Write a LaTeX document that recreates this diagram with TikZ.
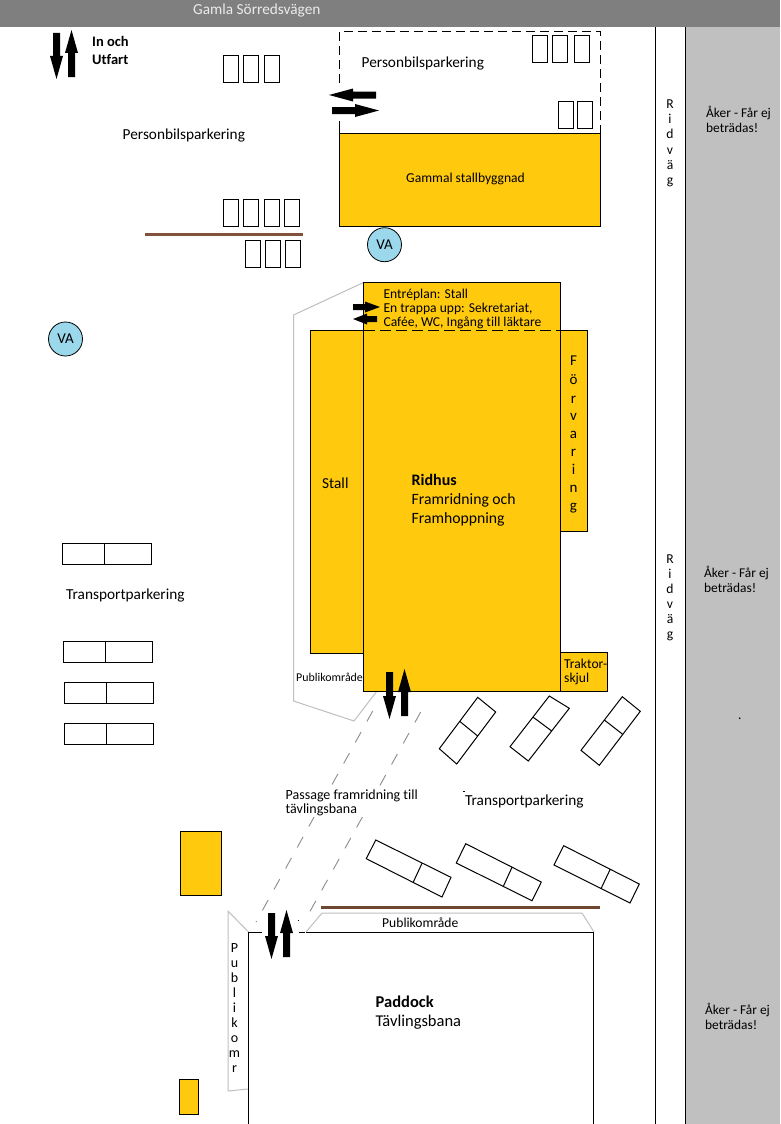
\documentclass[tikz,border=0pt]{standalone}
\usepackage{fontspec}
\setmainfont[Ligatures=CommonOff]{Carlito}
\definecolor{bldg}{HTML}{FFC90E}
\definecolor{road}{HTML}{7F7F7F}
\definecolor{field}{HTML}{C0C0C0}
\definecolor{brownA}{HTML}{82533A}
\definecolor{brownB}{HTML}{6E4731}
\definecolor{vablue}{HTML}{9BD8EC}
\definecolor{pub}{HTML}{BFBFBF}
\newcommand{\blockarrow}[7]{% x y rot length headlen shafthalf headhalf
  \fill[black,shift={(#1,#2)},rotate=#3] (0,-#6) -- (#4-#5,-#6) -- (#4-#5,-#7) -- (#4,0) -- (#4-#5,#7) -- (#4-#5,#6) -- (0,#6) -- cycle;}
\tikzset{
  line/.style={draw=black,line width=1pt},
  bldgbox/.style={line,fill=bldg},
  cell/.style={draw=black,line width=1pt},
  pubarea/.style={draw=pub,line width=1pt},
  passage/.style={draw=black!45,line width=.9pt,dash pattern=on 12pt off 12pt},
  lbl/.style={inner sep=0pt,anchor=base west,font=\fontsize{15.3}{17}\selectfont},
  lblsm/.style={lbl,font=\fontsize{13.6}{14}\selectfont},
  lblxs/.style={lbl,font=\fontsize{11.9}{14}\selectfont},
  lblak/.style={lbl,font=\fontsize{13.4}{14}\selectfont},
  lblbig/.style={lbl,font=\fontsize{15.7}{19}\selectfont},
  lblpad/.style={lbl,font=\fontsize{16.5}{19}\selectfont},
  lblc/.style={inner sep=0pt,anchor=base,font=\fontsize{13.6}{14}\selectfont},
  vastyle/.style={circle,draw=black,line width=.8pt,fill=vablue,minimum size=34pt,inner sep=0pt,font=\fontsize{15}{17}\selectfont},
}
\begin{document}
\begin{tikzpicture}[x=1pt,y=-1pt]
\useasboundingbox (0,0) rectangle (780,1124);
\fill[white] (0,0) rectangle (780,1124);
% road and field
\fill[field] (686,27) rectangle (780,1124);
\fill[road] (0,0) rectangle (780,27);
\draw[line] (655.5,27) -- (655.5,1124);
\draw[line] (685.5,27) -- (685.5,1124);
\node[lbl,text=white!92!black] (road) at (193,15) {Gamla Sörredsvägen};
% parking top left
\foreach \x in {223,243,264} \draw[cell] (\x,55.5) rectangle ++(15,27);
\foreach \x in {223,243,264,284} \draw[cell] (\x,199.5) rectangle ++(15,27);
\foreach \x in {245,265,285} \draw[cell] (\x,240.5) rectangle ++(15,27);
\draw[brownA,line width=3pt] (145,234.5) -- (303,234.5);
% dashed parking area
\draw[line,dash pattern=on 9pt off 5pt] (339.5,83) -- (339.5,31.5) -- (600.5,31.5) -- (600.5,133);
\draw[line] (339.5,121) -- (339.5,133);
\foreach \x in {532,552,574} \draw[cell] (\x,35.5) rectangle ++(15,27);
\foreach \x in {558,577} \draw[cell] (\x,101.5) rectangle ++(15,27);
\draw[bldgbox] (339.5,133.5) rectangle (600.5,226);
% Public areas behind buildings
\draw[pubarea] (363.5,282.5) -- (293.5,315) -- (293.5,701) -- (354,721) -- (377,691);
% Ridhus complex
\draw[bldgbox] (310.5,330.5) rectangle (363.5,653.5);
\draw[bldgbox] (560.5,330.5) rectangle (587.5,531);
\draw[bldgbox] (560.5,652.5) rectangle (607.5,691);
\draw[bldgbox] (363.5,282.5) rectangle (560.5,691);
\draw[line,dash pattern=on 11pt off 5pt] (363.5,330.5) -- (560.5,330.5);
% passage
\draw[passage] (372.7,711) -- (256,922);
\draw[passage] (420.7,712) -- (308,915);
\node[inner sep=0pt,fill=white,anchor=north west,minimum width=134pt,minimum height=30pt] (passbg) at (285,787) {};
% Small yellow buildings
\draw[bldgbox] (180.5,831.5) rectangle (221.5,895.5);
\draw[bldgbox] (179.5,1079.5) rectangle (198.5,1114.5);
% VA
\node[vastyle] (va1) at (384.5,244.7) {VA};
\node[vastyle] (va2) at (65.5,339) {VA};
% transport parking left
\foreach \x/\y/\d in {62.5/543.5/104.5,63.5/641.5/105.5,64.5/682.5/106.5,64.5/723.5/106.5} {
  \draw[cell] (\x,\y) rectangle ++(89,21);
  \draw[cell] (\d,\y) -- ++(0,21);
}
% tilted parking
\draw[cell] (477.7,697.3) -- (495.7,712) -- (456.7,764) -- (439.3,748.7) -- cycle (459.3,721) -- (477.3,735.7);
\draw[cell] (549.3,696) -- (569.3,708.3) -- (528.3,761) -- (510,746.7) -- cycle (533.3,717.3) -- (551.7,731);
\draw[cell] (622.3,696.7) -- (640.3,711.3) -- (599.3,765.3) -- (581,750.3) -- cycle (604.3,720) -- (622.7,734.3);
\draw[cell] (375.7,840) -- (451,877.3) -- (442,897) -- (366.3,858.7) -- cycle (422,863.3) -- (413,882.7);
\draw[cell] (465.7,843.7) -- (541.3,882) -- (532,900.7) -- (456.3,863) -- cycle (512,867.3) -- (503,887);
\draw[cell] (563.7,845.7) -- (639.3,884) -- (630,903) -- (554,865) -- cycle (610,869.7) -- (601,888.7);
% paddock
\draw[brownB,line width=3pt] (321,907.5) -- (600,907.5);
\draw[pubarea] (306,932) -- (322,913) -- (582,913) -- (594,932);
\draw[pubarea] (248.5,932) -- (228,911) -- (228,1091) -- (248,1089);
\draw[line] (261.5,932.5) -- (248.5,932.5) -- (248.5,1124);
\draw[line] (299,932.5) -- (305,932.5);
\draw[line] (306,932.5) -- (593.5,932.5) -- (593.5,1124);
% block arrows
\blockarrow{56.5}{33}{-90}{46}{23}{3.5}{6.5}
\blockarrow{71.5}{77}{90}{47}{23}{3.5}{6.5}
\blockarrow{376}{95}{180}{47}{24}{3.5}{6.5}
\blockarrow{332}{110.5}{0}{47}{24}{3.5}{6.5}
\blockarrow{353}{307}{0}{27}{15}{3}{5.5}
\blockarrow{377}{319}{180}{24}{14}{3}{5.5}
\blockarrow{389.5}{672}{-90}{47}{23}{3.5}{6.5}
\blockarrow{404.5}{716}{90}{47}{23}{3.5}{6.5}
\blockarrow{271.5}{913}{-90}{46}{23}{3.5}{6.5}
\blockarrow{286.5}{957}{90}{47}{23}{3.5}{6.5}
% labels
\node[lbl,font=\fontsize{14.5}{17}\selectfont\bfseries] (inoch) at (92,47) {In och};
\node[lbl,font=\fontsize{14.5}{17}\selectfont\bfseries] (utfart) at (92,65) {Utfart};
\node[lbl] (pb1) at (122.5,139.3) {Personbilsparkering};
\node[lbl] (pb2) at (361.5,67) {Personbilsparkering};
\node[lblsm] (gammal) at (406,182) {Gammal stallbyggnad};
\node[lblsm] (entre) at (383.3,298) {Entréplan: Stall};
\node[lblsm] (trappa) at (383.3,312) {En trappa upp: Sekretariat,};
\node[lblsm] (cafe) at (383.3,326) {Cafée, WC, Ingång till läktare};
\node[lbl] (stall) at (322,488) {Stall};
\node[lblbig,font=\fontsize{16}{19}\selectfont\bfseries] (ridhus) at (411.5,485) {Ridhus};
\node[lblbig] (fram1) at (411.5,504) {Framridning och};
\node[lblbig] (fram2) at (411.5,523) {Framhoppning};
\node[lbl,font=\fontsize{13.6}{17}\selectfont] (trak1) at (564,668) {Traktor-};
\node[lbl,font=\fontsize{13.6}{17}\selectfont] (trak2) at (564,682) {skjul};
\node[lblxs] (pubL) at (296,681) {Publikområde};
\node[lblsm] (pubB) at (382,927) {Publikområde};
\node[lbl,font=\fontsize{14}{14}\selectfont] (pass1) at (285.5,799) {Passage framridning till};
\node[lbl,font=\fontsize{14}{14}\selectfont] (pass2) at (285.5,813.5) {tävlingsbana};
\node[lbl] (tp1) at (66,599) {Transportparkering};
\node[lbl] (tp2) at (465,805) {Transportparkering};
\node[lblpad,font=\fontsize{16.5}{19}\selectfont\bfseries] (paddock) at (375.5,1007) {Paddock};
\node[lblpad] (bana) at (375.5,1026) {Tävlingsbana};
\foreach \t/\y [count=\i] in {R/108.5,i/123.5,d/138.5,v/154,ä/169,g/184}
  \node[lblc] (ridA\i) at (670,\y) {\t};
\foreach \t/\y [count=\i] in {R/563,i/578,d/593,v/608,ä/623,g/638.5}
  \node[lblc] (ridB\i) at (670,\y) {\t};
\foreach \t/\y [count=\i] in {F/365.5,ö/384,r/403,v/420.5,a/438.5,r/456.5,i/474.5,n/492.5,g/510.5}
  \node[lblc,font=\fontsize{15}{17}\selectfont] (forv\i) at (573.5,\y) {\t};
\foreach \t/\y [count=\i] in {P/952,u/967,b/982,l/997,i/1012,k/1027,o/1042,m/1057.5,r/1072}
  \node[lblc,font=\fontsize{14}{14}\selectfont] (pubv\i) at (234.5,\y) {\t};
\node[lblak] (ak1a) at (706,117) {Åker - Får ej};
\node[lblak] (ak1b) at (706,132) {beträdas!};
\node[lblak] (ak2a) at (704,577) {Åker - Får ej};
\node[lblak] (ak2b) at (704,592) {beträdas!};
\node[lblak] (ak3a) at (705,1014) {Åker - Får ej};
\node[lblak] (ak3b) at (705,1029) {beträdas!};
\node[lblsm] (dot) at (738,719) {.};
\fill[black] (297.5,919.5) rectangle ++(1,1);
\fill[black] (463,791) rectangle ++(2,.8);
\end{tikzpicture}
\end{document}
